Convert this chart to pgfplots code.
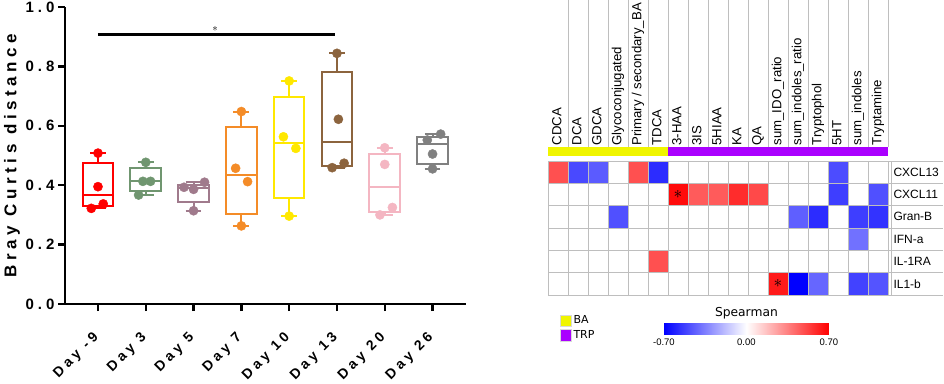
\documentclass[border=0pt]{standalone}
\usepackage{pgfplots}
\pgfplotsset{compat=1.18}
\usepgfplotslibrary{statistics}
\usepackage{fontspec}
\setmainfont{Liberation Sans}
\newfontfamily\spfont[LetterSpace=27]{Liberation Sans}
\newfontfamily\dvfont{DejaVu Sans}
\definecolor{cRed}{RGB}{255,0,0}
\definecolor{cGreen}{RGB}{112,150,112}
\definecolor{cMauve}{RGB}{160,122,140}
\definecolor{cOrange}{RGB}{244,140,40}
\definecolor{cYellow}{RGB}{255,232,0}
\definecolor{cBrown}{RGB}{140,100,62}
\definecolor{cPink}{RGB}{244,182,194}
\definecolor{cGray}{RGB}{128,128,128}
\definecolor{barYellow}{RGB}{240,245,0}
\definecolor{barPurple}{RGB}{170,0,255}
\definecolor{gridc}{RGB}{190,190,190}
\pgfplotsset{
  bx/.style={line width=2pt, solid},
  pts/.style={only marks, mark=*, mark size=4.6pt},
}
\begin{document}
\begin{tikzpicture}
\path[use as bounding box] (0,0) rectangle (944pt,383pt);
% ---------------- left: box plots ----------------
\begin{axis}[
  at={(65pt,79pt)}, anchor=south west, scale only axis,
  width=401pt, height=297pt,
  xmin=-0.69, xmax=7.7, ymin=0, ymax=1,
  clip=false,
  boxplot/draw direction=y,
  axis x line*=bottom, axis y line*=left,
  axis line style={line width=2.5pt, black, -},
  tick style={line width=2.5pt, black},
  tick align=outside, major tick length=7pt,
  ytick={0,0.2,0.4,0.6,0.8,1.0},
  yticklabel style={font=\spfont\bfseries\fontsize{15}{15}\selectfont,
    /pgf/number format/.cd, fixed, fixed zerofill, precision=1, assume math mode=true},
  xtick={0,1,2,3,4,5,6,7},
  xticklabels={Day -9, Day 3, Day 5, Day 7, Day 10, Day 13, Day 20, Day 26},
  xticklabel style={xshift=1pt, yshift=-22pt, rotate=45, anchor=east,
    font=\spfont\bfseries\fontsize{14}{14}\selectfont},
  ylabel={Bray Curtis distance},
  ylabel style={font=\spfont\bfseries\fontsize{17}{17}\selectfont,
    at={(axis description cs:-0.132,0.5)}, anchor=center},
]
\addplot[bx, draw=cRed, boxplot prepared={draw position=0, lower whisker=0.322, lower quartile=0.330, median=0.367, upper quartile=0.476, upper whisker=0.508, box extend=0.64, whisker extend=0.33}] coordinates {};
\addplot[bx, draw=cGreen, boxplot prepared={draw position=1, lower whisker=0.367, lower quartile=0.381, median=0.415, upper quartile=0.457, upper whisker=0.477, box extend=0.64, whisker extend=0.33}] coordinates {};
\addplot[bx, draw=cMauve, boxplot prepared={draw position=2, lower whisker=0.314, lower quartile=0.344, median=0.390, upper quartile=0.401, upper whisker=0.410, box extend=0.64, whisker extend=0.33}] coordinates {};
\addplot[bx, draw=cOrange, boxplot prepared={draw position=3, lower whisker=0.263, lower quartile=0.303, median=0.434, upper quartile=0.595, upper whisker=0.648, box extend=0.64, whisker extend=0.33}] coordinates {};
\addplot[bx, draw=cYellow, boxplot prepared={draw position=4, lower whisker=0.296, lower quartile=0.356, median=0.543, upper quartile=0.698, upper whisker=0.751, box extend=0.64, whisker extend=0.33}] coordinates {};
\addplot[bx, draw=cBrown, boxplot prepared={draw position=5, lower whisker=0.459, lower quartile=0.465, median=0.544, upper quartile=0.782, upper whisker=0.844, box extend=0.64, whisker extend=0.33}] coordinates {};
\addplot[bx, draw=cPink, boxplot prepared={draw position=6, lower whisker=0.300, lower quartile=0.311, median=0.395, upper quartile=0.505, upper whisker=0.526, box extend=0.64, whisker extend=0.33}] coordinates {};
\addplot[bx, draw=cGray, boxplot prepared={draw position=7, lower whisker=0.455, lower quartile=0.470, median=0.539, upper quartile=0.561, upper whisker=0.572, box extend=0.64, whisker extend=0.33}] coordinates {};
% points
\addplot[pts, color=cRed] coordinates {(0,0.508) (0,0.395) (-0.14,0.322) (0.11,0.337)};
\addplot[pts, color=cGreen] coordinates {(1,0.477) (0.94,0.413) (1.10,0.413) (0.85,0.367)};
\addplot[pts, color=cMauve] coordinates {(1.80,0.393) (2,0.386) (2.23,0.410) (2,0.314)};
\addplot[pts, color=cOrange] coordinates {(3,0.648) (2.88,0.457) (3.13,0.412) (3,0.263)};
\addplot[pts, color=cYellow] coordinates {(4,0.751) (3.88,0.563) (4.14,0.524) (4,0.296)};
\addplot[pts, color=cBrown] coordinates {(5,0.844) (5.03,0.622) (4.90,0.459) (5.15,0.474)};
\addplot[pts, color=cPink] coordinates {(6,0.526) (6,0.470) (5.90,0.300) (6.16,0.325)};
\addplot[pts, color=cGray] coordinates {(6.89,0.552) (7.17,0.572) (7,0.505) (7,0.455)};
% significance bar
\addplot[black, line width=2.5pt] coordinates {(0,0.908) (4.95,0.908)};
\node[font=\fontsize{11}{11}\selectfont] at (axis cs:2.45,0.925) {$\ast$};
\end{axis}
% ---------------- right: heatmap ----------------
\begin{axis}[
  at={(548pt,88pt)}, anchor=south west, scale only axis,
  width=340pt, height=134pt,
  xmin=-0.5, xmax=16.5, ymin=-0.5, ymax=5.5, y dir=reverse,
  clip=false,
  axis line style={draw=none}, tick style={draw=none},
  xtick={0,...,16},
  xticklabels={CDCA, DCA, GDCA, Glycoconjugated, Primary / secondary\_BA, TDCA, 3-HAA, 3IS, 5HIAA, KA, QA, sum\_IDO\_ratio, sum\_indoles\_ratio, Tryptophol, 5HT, sum\_indoles, Tryptamine},
  xticklabel pos=upper,
  xticklabel style={rotate=90, anchor=west, text height=9.5pt, text depth=2.7pt,
    font=\fontsize{13.2}{13.2}\selectfont},
  xticklabel shift=12pt,
  ytick={0,...,5},
  yticklabels={CXCL13, CXCL11, Gran-B, IFN-a, IL-1RA, IL1-b},
  yticklabel pos=right,
  yticklabel style={anchor=west, font=\fontsize{12}{12}\selectfont, xshift=2pt},
  colormap={bwr}{rgb255=(0,0,255) rgb255=(255,255,255) rgb255=(255,0,0)},
  point meta min=-0.7, point meta max=0.7,
  colorbar horizontal,
  colorbar style={
    at={(0.341,-0.216)}, anchor=north west,
    scale only axis, width=165pt, height=11pt,
    xtick={-0.7,0,0.7}, xticklabels={-0.70,0.00,0.70},
    xticklabel style={font=\fontsize{9.5}{9.5}\selectfont},
    axis line style={draw=none}, tick style={draw=none},
    title={Spearman},
    title style={font=\dvfont\fontsize{12.3}{12.3}\selectfont, yshift=-5pt},
  },
  legend style={at={(axis description cs:0.035,-0.14)}, anchor=north west, draw=none, fill=none,
    font=\dvfont\fontsize{11}{11}\selectfont, inner sep=0pt, row sep=1pt},
  legend cell align=left,
]
\addplot[matrix plot*, draw=gridc, line width=0.7pt, mesh/cols=17, point meta=explicit, forget plot]
table[meta=c] {
x y c
0 0 0.48
1 0 -0.50
2 0 -0.45
3 0 0
4 0 0.48
5 0 -0.58
6 0 0
7 0 0
8 0 0
9 0 0
10 0 0
11 0 0
12 0 0
13 0 0
14 0 -0.49
15 0 0
16 0 0
0 1 0
1 1 0
2 1 0
3 1 0
4 1 0
5 1 0
6 1 0.67
7 1 0.45
8 1 0.45
9 1 0.58
10 1 0.50
11 1 0
12 1 0
13 1 0
14 1 -0.53
15 1 0
16 1 -0.48
0 2 0
1 2 0
2 2 0
3 2 -0.48
4 2 0
5 2 0
6 2 0
7 2 0
8 2 0
9 2 0
10 2 0
11 2 0
12 2 -0.44
13 2 -0.58
14 2 0
15 2 -0.53
16 2 -0.56
0 3 0
1 3 0
2 3 0
3 3 0
4 3 0
5 3 0
6 3 0
7 3 0
8 3 0
9 3 0
10 3 0
11 3 0
12 3 0
13 3 0
14 3 0
15 3 -0.39
16 3 0
0 4 0
1 4 0
2 4 0
3 4 0
4 4 0
5 4 0.48
6 4 0
7 4 0
8 4 0
9 4 0
10 4 0
11 4 0
12 4 0
13 4 0
14 4 0
15 4 0
16 4 0
0 5 0
1 5 0
2 5 0
3 5 0
4 5 0
5 5 0
6 5 0
7 5 0
8 5 0
9 5 0
10 5 0
11 5 0.63
12 5 -0.70
13 5 -0.42
14 5 0
15 5 -0.52
16 5 -0.47
};
\node at (axis cs:6,1) {\fontsize{16}{16}\selectfont$\ast$};
\node at (axis cs:11,5) {\fontsize{16}{16}\selectfont$\ast$};
% category strips
\fill[barYellow] ([yshift=5pt]axis cs:-0.5,-0.5) rectangle ([yshift=14pt]axis cs:5.5,-0.5);
\fill[barPurple] ([yshift=5pt]axis cs:5.5,-0.5) rectangle ([yshift=14pt]axis cs:16.5,-0.5);
% column separators above
\pgfplotsinvokeforeach{0.5,1.5,2.5,3.5,4.5,5.5,6.5,7.5,8.5,9.5,10.5,11.5,12.5,13.5,14.5,15.5,16.5}{
  \draw[gridc, line width=0.7pt] ([yshift=14pt]axis cs:#1,-0.5) -- ([yshift=161pt]axis cs:#1,-0.5);
}
% row lines under labels
\pgfplotsinvokeforeach{-0.5,0.5,1.5,2.5,3.5,4.5,5.5}{
  \draw[gridc, line width=0.7pt] (axis cs:16.5,#1) -- ([xshift=55pt]axis cs:16.5,#1);
}
\draw[gridc, line width=0.7pt] ([xshift=3pt]axis cs:16.5,-0.5) -- ([xshift=3pt]axis cs:16.5,5.5);
% legend
\addlegendimage{legend image code/.code={\draw[fill=barYellow, draw=gray!30] (0pt,-5.5pt) rectangle (11pt,6pt);}}
\addlegendentry{BA}
\addlegendimage{legend image code/.code={\draw[fill=barPurple, draw=gray!30] (0pt,-5.5pt) rectangle (11pt,6pt);}}
\addlegendentry{TRP}
\end{axis}
\end{tikzpicture}
\end{document}
